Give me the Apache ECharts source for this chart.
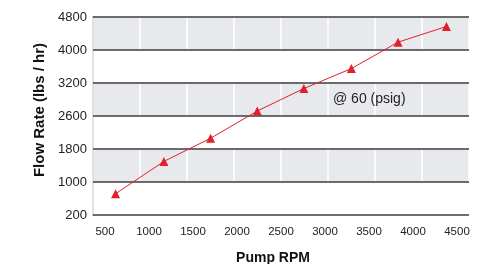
<!DOCTYPE html>
<html>
<head>
<meta charset="utf-8">
<script src="https://cdn.jsdelivr.net/npm/echarts@6/dist/echarts.min.js"></script>
<style>
  html, body { margin: 0; padding: 0; background: #fff; }
  #main { width: 481px; height: 264px; }
</style>
</head>
<body>
<div id="main"></div>
<script>
    var rpm = [620, 1170, 1700, 2230, 2760, 3300, 3830, 4380];
    var flow = [715, 1500, 2060, 2690, 3100, 3550, 4190, 4570];
    var yTicks = [200, 1000, 1800, 2600, 3200, 4000, 4800];
    var xTicks = [500, 1000, 1500, 2000, 2500, 3000, 3500, 4000, 4500];

    // the flow axis is drawn with evenly spaced rows, so place values by row
    function rowOf(v) {
        for (var i = 0; i < yTicks.length - 1; i++) {
            if (v <= yTicks[i + 1]) {
                return i + (v - yTicks[i]) / (yTicks[i + 1] - yTicks[i]);
            }
        }
        return yTicks.length - 1;
    }

    var points = rpm.map(function (r, i) { return [r, rowOf(flow[i])]; });

    var myChart = echarts.init(document.getElementById('main'));
    var font = 'Liberation Sans, Arial, sans-serif';

    myChart.setOption({
        animation: false,
        backgroundColor: '#fff',
        grid: [
            { left: 93, right: 12, top: 17, bottom: 49 },
            { left: 105, right: 24, top: 17, bottom: 49 }
        ],
        xAxis: [{
            gridIndex: 0, type: 'value', min: 0, max: 8, interval: 1, z: 1,
            axisLine: { show: false }, axisTick: { show: false }, axisLabel: { show: false },
            splitLine: { show: true, lineStyle: { color: '#fff', width: 1.5 } }
        }, {
            gridIndex: 1, type: 'value', min: xTicks[0], max: xTicks[xTicks.length - 1], interval: 500,
            axisLine: { show: false }, axisTick: { show: false },
            splitLine: { show: false },
            axisLabel: {
                margin: 11, fontSize: 11.5, color: '#222', fontFamily: font,
                formatter: function (v) { return String(v); }
            }
        }],
        yAxis: [{
            gridIndex: 0, type: 'value', min: 0, max: 6, interval: 1, z: 0,
            axisLine: { show: true, lineStyle: { color: '#666', width: 1.5 } },
            axisTick: { show: false },
            splitLine: { show: false },
            splitArea: { show: true, areaStyle: { color: ['#fff', '#e8e9ed'] } },
            axisLabel: {
                margin: 6, fontSize: 13, color: '#222', fontFamily: font,
                formatter: function (v) { return yTicks[v]; }
            },
            name: 'Flow Rate (lbs / hr)', nameLocation: 'middle', nameRotate: 90, nameGap: 44,
            nameTextStyle: { fontSize: 15, fontWeight: 'bold', color: '#111', fontFamily: font, padding: [0, 0, 0, 12] }
        }, {
            gridIndex: 0, type: 'value', min: 0, max: 6, interval: 1, z: 2, position: 'right',
            axisLine: { show: false }, axisTick: { show: false }, axisLabel: { show: false },
            splitLine: { show: true, lineStyle: { color: '#3c3c3c', width: 1.5 } }
        }, {
            gridIndex: 1, type: 'value', min: 0, max: 6, show: false
        }],
        title: [{
            text: 'Pump RPM', left: 268, top: 246, textAlign: 'center',
            textStyle: { fontSize: 14, fontWeight: 'bold', color: '#111', fontFamily: font }
        }],
        graphic: [{
            type: 'text', left: 333, top: 92, z: 10,
            style: { text: '@ 60 (psig)', fontSize: 14, fill: '#222', fontFamily: font }
        }],
        series: [{
            type: 'line',
            xAxisIndex: 1,
            yAxisIndex: 2,
            data: points,
            symbol: 'triangle',
            symbolSize: 9,
            z: 5,
            lineStyle: { color: '#e2202b', width: 1 },
            itemStyle: { color: '#e2202b' }
        }]
    });
</script>
</body>
</html>
